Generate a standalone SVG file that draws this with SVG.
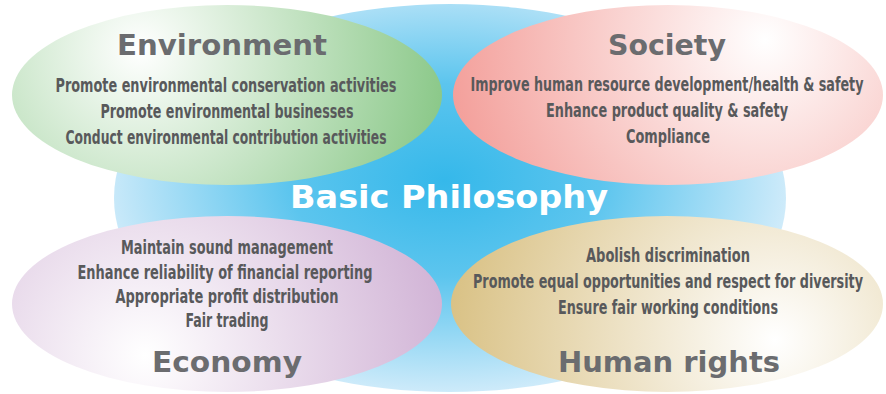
<svg xmlns="http://www.w3.org/2000/svg" width="886" height="394" viewBox="0 0 886 394">
<defs>
<radialGradient id="gBlue" gradientUnits="userSpaceOnUse" cx="445" cy="180" r="345" gradientTransform="translate(445 180) scale(1 0.62) translate(-445 -180)">
<stop offset="0" stop-color="#35b8ea"/>
<stop offset="0.45" stop-color="#5cc5ee"/>
<stop offset="1" stop-color="#cfebfa"/>
</radialGradient>
<radialGradient id="gGreen" gradientUnits="userSpaceOnUse" cx="140" cy="50" r="320">
<stop offset="0" stop-color="#ffffff"/>
<stop offset="1" stop-color="#86c684"/>
</radialGradient>
<radialGradient id="gPink" gradientUnits="userSpaceOnUse" cx="765" cy="40" r="330">
<stop offset="0" stop-color="#ffffff"/>
<stop offset="1" stop-color="#f39c97"/>
</radialGradient>
<radialGradient id="gPurple" gradientUnits="userSpaceOnUse" cx="145" cy="355" r="320">
<stop offset="0" stop-color="#ffffff"/>
<stop offset="1" stop-color="#cfb0d4"/>
</radialGradient>
<radialGradient id="gTan" gradientUnits="userSpaceOnUse" cx="775" cy="340" r="330">
<stop offset="0" stop-color="#ffffff"/>
<stop offset="1" stop-color="#d9c184"/>
</radialGradient>
</defs>
<style>
.title{font-family:"DejaVu Sans","Open Sans",sans-serif;font-weight:bold;font-size:29px;fill:#6b6c6f;text-anchor:middle}
.body{font-family:"Liberation Sans Narrow","DejaVu Sans Condensed","DejaVu Sans",sans-serif;font-weight:bold;font-size:19px;fill:#58595b;text-anchor:middle}
.center{font-family:"DejaVu Sans","Open Sans",sans-serif;font-weight:bold;font-size:32px;fill:#ffffff;text-anchor:middle}
</style>
<g id="basic-philosophy">
<ellipse cx="450" cy="198" rx="336" ry="194" fill="url(#gBlue)"/>
</g>
<g id="environment">
<ellipse cx="227" cy="95" rx="215" ry="90" fill="url(#gGreen)"/>
<text class="title" x="222" y="55" textLength="210" lengthAdjust="spacingAndGlyphs">Environment</text>
<text class="body" x="226" y="92" textLength="341" lengthAdjust="spacingAndGlyphs">Promote environmental conservation activities</text>
<text class="body" x="227" y="118" textLength="253" lengthAdjust="spacingAndGlyphs">Promote environmental businesses</text>
<text class="body" x="226" y="144" textLength="321" lengthAdjust="spacingAndGlyphs">Conduct environmental contribution activities</text>
</g>
<g id="society">
<ellipse cx="668" cy="95" rx="215" ry="90" fill="url(#gPink)"/>
<text class="title" x="667" y="55" textLength="118" lengthAdjust="spacingAndGlyphs">Society</text>
<text class="body" x="667" y="91" textLength="393" lengthAdjust="spacingAndGlyphs">Improve human resource development/health &amp; safety</text>
<text class="body" x="667" y="117" textLength="242" lengthAdjust="spacingAndGlyphs">Enhance product quality &amp; safety</text>
<text class="body" x="668" y="143" textLength="84" lengthAdjust="spacingAndGlyphs">Compliance</text>
</g>
<g id="economy">
<ellipse cx="227" cy="304" rx="215" ry="88" fill="url(#gPurple)"/>
<text class="body" x="227" y="254" textLength="212" lengthAdjust="spacingAndGlyphs">Maintain sound management</text>
<text class="body" x="225" y="279" textLength="295" lengthAdjust="spacingAndGlyphs">Enhance reliability of financial reporting</text>
<text class="body" x="227" y="303" textLength="223" lengthAdjust="spacingAndGlyphs">Appropriate profit distribution</text>
<text class="body" x="227" y="327" textLength="83" lengthAdjust="spacingAndGlyphs">Fair trading</text>
<text class="title" x="227" y="372" textLength="150" lengthAdjust="spacingAndGlyphs">Economy</text>
</g>
<g id="human-rights">
<ellipse cx="667" cy="304" rx="216" ry="88" fill="url(#gTan)"/>
<text class="body" x="668" y="262" textLength="164" lengthAdjust="spacingAndGlyphs">Abolish discrimination</text>
<text class="body" x="668" y="288" textLength="390" lengthAdjust="spacingAndGlyphs">Promote equal opportunities and respect for diversity</text>
<text class="body" x="668" y="314" textLength="220" lengthAdjust="spacingAndGlyphs">Ensure fair working conditions</text>
<text class="title" x="669" y="372" textLength="222" lengthAdjust="spacingAndGlyphs">Human rights</text>
</g>
<g id="center-label">
<text class="center" x="449" y="208" textLength="318" lengthAdjust="spacingAndGlyphs">Basic Philosophy</text>
</g>
<g id="connectors"/>
</svg>
